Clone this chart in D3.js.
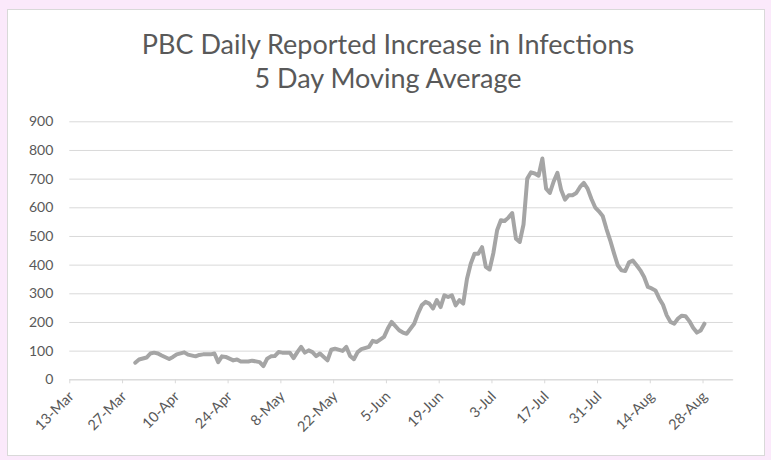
<!DOCTYPE html>
<html>
<head>
<meta charset="utf-8">
<script src="https://cdn.jsdelivr.net/npm/d3@7"></script>
<style>
  body { margin: 0; background: #fbe9fb; }
  text { font-family: Lato, "Open Sans", sans-serif; fill: #595959; }
</style>
</head>
<body>
<div class="container"></div>
<script>
// values, one per reported day (5 day moving average)
const dates = [
  "2020-03-30","2020-03-31","2020-04-02","2020-04-03","2020-04-04","2020-04-05","2020-04-06","2020-04-08",
  "2020-04-09","2020-04-10","2020-04-12","2020-04-13","2020-04-15","2020-04-16","2020-04-17","2020-04-19",
  "2020-04-20","2020-04-21","2020-04-22","2020-04-23","2020-04-25","2020-04-26","2020-04-27","2020-04-29",
  "2020-04-30","2020-05-02","2020-05-03","2020-05-04","2020-05-05","2020-05-06","2020-05-07","2020-05-08",
  "2020-05-10","2020-05-11","2020-05-12","2020-05-13","2020-05-14","2020-05-15","2020-05-16","2020-05-17",
  "2020-05-18","2020-05-20","2020-05-21","2020-05-22","2020-05-24","2020-05-25","2020-05-26","2020-05-27",
  "2020-05-28","2020-05-29","2020-05-31","2020-06-01","2020-06-02","2020-06-04","2020-06-05","2020-06-06",
  "2020-06-08","2020-06-09","2020-06-10","2020-06-12","2020-06-13","2020-06-14","2020-06-15","2020-06-16",
  "2020-06-17","2020-06-18","2020-06-19","2020-06-20","2020-06-21","2020-06-22","2020-06-23","2020-06-24",
  "2020-06-25","2020-06-26","2020-06-27","2020-06-28","2020-06-29","2020-06-30","2020-07-01","2020-07-02",
  "2020-07-03","2020-07-04","2020-07-05","2020-07-06","2020-07-07","2020-07-08","2020-07-09","2020-07-10",
  "2020-07-11","2020-07-12","2020-07-13","2020-07-14","2020-07-15","2020-07-16","2020-07-17","2020-07-18",
  "2020-07-19","2020-07-20","2020-07-21","2020-07-22","2020-07-23","2020-07-24","2020-07-25","2020-07-26",
  "2020-07-27","2020-07-28","2020-07-29","2020-07-30","2020-07-31","2020-08-01","2020-08-02","2020-08-03",
  "2020-08-04","2020-08-05","2020-08-06","2020-08-07","2020-08-08","2020-08-09","2020-08-10","2020-08-11",
  "2020-08-12","2020-08-13","2020-08-14","2020-08-15","2020-08-16","2020-08-17","2020-08-18","2020-08-19",
  "2020-08-20","2020-08-21","2020-08-22","2020-08-23","2020-08-24","2020-08-25","2020-08-26","2020-08-27",
  "2020-08-28"
];
const infections = [
  58, 69, 76, 90, 93, 90, 83, 71,
  78, 87, 94, 86, 80, 85, 87, 87,
  90, 60, 80, 78, 66, 69, 62, 62,
  65, 60, 46, 72, 80, 81, 95, 93,
  93, 74, 95, 113, 93, 101, 95, 81,
  90, 66, 103, 107, 99, 113, 81, 70,
  95, 105, 113, 134, 130, 148, 177, 200,
  171, 163, 159, 194, 229, 258, 270, 264,
  247, 276, 252, 293, 287, 293, 258, 276,
  264, 350, 403, 438, 438, 461, 392, 383,
  440, 520, 555, 552, 564, 580, 490, 479,
  540, 700, 722, 718, 710, 770, 665, 650,
  690, 720, 660, 627, 642, 642, 650, 671,
  685, 665, 630, 600, 586, 570, 525, 485,
  440, 398, 380, 378, 408, 414, 398, 380,
  357, 322, 317, 310, 282, 260, 223, 200,
  194, 212, 222, 220, 203, 180, 163, 170,
  194
];
const tickDates = ["2020-03-13","2020-03-27","2020-04-10","2020-04-24","2020-05-08","2020-05-22","2020-06-05",
                   "2020-06-19","2020-07-03","2020-07-17","2020-07-31","2020-08-14","2020-08-28"];
const tickLabels = ["13-Mar","27-Mar","10-Apr","24-Apr","8-May","22-May","5-Jun",
                    "19-Jun","3-Jul","17-Jul","31-Jul","14-Aug","28-Aug"];
const yTicks = [0, 100, 200, 300, 400, 500, 600, 700, 800, 900];

const w = 771;
const h = 460;
const padL = 69.3, padR = 732.7, padT = 121.3, padB = 379.3;
const parse = d3.utcParse("%Y-%m-%d");

const svg = d3.select(".container")
              .append("svg")
              .attr("width", w)
              .attr("height", h)
              .style("display", "block");

svg.append("rect")
   .attr("x", 7.5).attr("y", 9.5)
   .attr("width", 757).attr("height", 446)
   .attr("fill", "#fff")
   .attr("stroke", "#d9d9d9");

svg.append("text")
   .attr("x", 388).attr("y", 54)
   .attr("text-anchor", "middle")
   .style("font-size", "27px")
   .text("PBC Daily Reported Increase in Infections");
svg.append("text")
   .attr("x", 388).attr("y", 88)
   .attr("text-anchor", "middle")
   .style("font-size", "27px")
   .text("5 Day Moving Average");

const start = parse("2020-03-13");
const xScale = d3.scaleUtc()
                 .domain([start, d3.utcDay.offset(start, 176)])
                 .range([padL, padR]);
const yScale = d3.scaleLinear()
                 .domain([0, 900])
                 .range([padB, padT]);

// gridlines + y labels
const yAxis = d3.axisLeft(yScale)
                .tickValues(yTicks)
                .tickSize(-(padR - padL))
                .tickPadding(16);
svg.append("g")
   .attr("id", "y-axis")
   .attr("transform", `translate(${padL}, 0)`)
   .call(yAxis)
   .call(g => g.select(".domain").remove())
   .call(g => g.selectAll("line").attr("stroke", "#d9d9d9"))
   .call(g => g.selectAll("text").style("font-size", "14px").attr("fill", "#595959"));

const xAxis = d3.axisBottom(xScale)
                .tickValues(tickDates.map(parse))
                .tickFormat((d, i) => tickLabels[i])
                .tickSizeInner(4)
                .tickSizeOuter(0);
svg.append("g")
   .attr("id", "x-axis")
   .attr("transform", `translate(0, ${padB})`)
   .call(xAxis)
   .call(g => g.select(".domain").attr("stroke", "#d9d9d9"))
   .call(g => g.selectAll("line").attr("stroke", "#d9d9d9"))
   .call(g => g.selectAll("text")
               .style("font-size", "14.5px")
               .attr("fill", "#595959")
               .attr("text-anchor", "end")
               .attr("dy", null)
               .attr("y", 0)
               .attr("transform", "translate(5, 18) rotate(-45)"));

// each day sits mid-slot like the spreadsheet date axis
const line = d3.line()
               .x((d, i) => xScale(d3.utcHour.offset(parse(dates[i]), 12)))
               .y(d => yScale(d));

svg.append("path")
   .datum(infections)
   .attr("d", line)
   .attr("fill", "none")
   .attr("stroke", "#a5a5a5")
   .attr("stroke-width", 4)
   .attr("stroke-linejoin", "round")
   .attr("stroke-linecap", "round");
</script>
</body>
</html>
